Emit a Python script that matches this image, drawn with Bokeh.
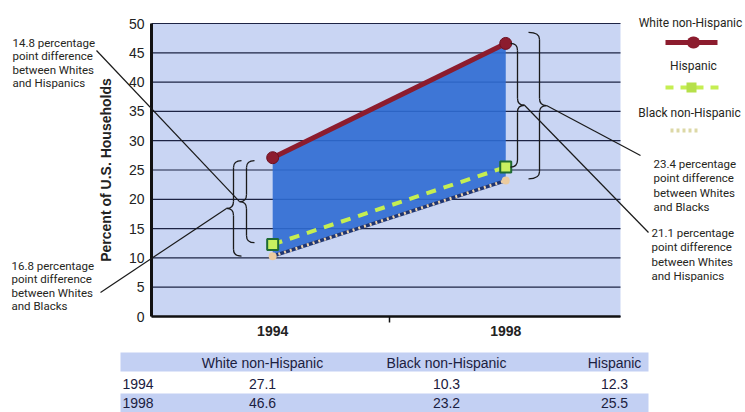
from bokeh.plotting import figure
from bokeh.models import (Range1d, FixedTicker, Label, Arrow, BoxAnnotation,
                          ColumnDataSource, LinearAxis)
from bokeh.embed import file_html
from bokeh.resources import INLINE

# ---------------- data ----------------
years = [1994, 1998]
white = [27.1, 46.6]
black = [10.3, 23.2]
hispanic = [12.3, 25.5]
series_names = ["White non-Hispanic", "Black non-Hispanic", "Hispanic"]
legend_order = ["White non-Hispanic", "Hispanic", "Black non-Hispanic"]
y_ticks = [0, 5, 10, 15, 20, 25, 30, 35, 40, 45, 50]
x_ticks = [1994, 1998]
x_minor = [1996]
y_label = "Percent of U.S. Households"

# ---------------- geometry (image pixels) ----------------
W, H = 745, 412
OX, OY = 0, 0
FL, FR, FT, FB = 151, 620, 23, 316          # chart area in image pixels
X0, X1 = 1991.92, 1999.97                    # chart x extent
Y0, Y1 = 0, 50                               # chart y extent


def dx(px):
    return X0 + (px - FL) * (X1 - X0) / (FR - FL)


def dy(py):
    return Y0 + (FB - py) * (Y1 - Y0) / (FB - FT)


PXY = (FB - FT) / (Y1 - Y0)

NARROW = "Roboto"
NSIZE = "11.5px"
SANS = "Liberation Sans"
TXT = "#26261c"
TBL = "#1b2040"

p = figure(width=W, height=H,
           x_range=Range1d(dx(OX), dx(OX + W)), y_range=Range1d(dy(OY + H), dy(OY)),
           output_backend="svg", toolbar_location=None,
           x_axis_type=None, y_axis_type=None,
           min_border_left=0, min_border_right=0, min_border_top=0, min_border_bottom=0)
p.background_fill_color = "white"
p.border_fill_color = "white"
p.outline_line_color = None
p.xgrid.visible = False
p.ygrid.visible = False

# chart background
p.add_layout(BoxAnnotation(left=X0, right=X1, bottom=Y0, top=Y1, fill_color="#C9D5F3",
                           fill_alpha=1, line_color=None, level="underlay"))

# axes at fixed locations
yax = LinearAxis(fixed_location=X0, bounds=(Y0, Y1), ticker=FixedTicker(ticks=y_ticks))
yax.major_tick_line_color = None
yax.major_tick_out = 0
yax.minor_tick_line_color = None
yax.major_label_standoff = 7
yax.major_label_text_font = SANS
yax.major_label_text_font_size = "14px"
yax.major_label_text_color = "#222222"
yax.axis_line_color = "#111111"
yax.axis_line_width = 3
yax.axis_label = y_label
yax.axis_label_text_font = SANS
yax.axis_label_text_font_size = "14px"
yax.axis_label_text_font_style = "bold"
yax.axis_label_text_color = "#222222"
yax.axis_label_standoff = 12
p.add_layout(yax, "left")

xax = LinearAxis(fixed_location=Y0, bounds=(X0, X1),
                 ticker=FixedTicker(ticks=x_ticks, minor_ticks=x_minor))
xax.major_tick_line_color = None
xax.major_tick_out = 0
xax.minor_tick_in = 0
xax.minor_tick_out = 6
xax.minor_tick_line_color = "#111111"
xax.minor_tick_line_width = 1.5
xax.major_label_standoff = 3
xax.major_label_text_font = SANS
xax.major_label_text_font_size = "14px"
xax.major_label_text_font_style = "bold"
xax.major_label_text_color = "#222222"
xax.axis_line_color = "#111111"
xax.axis_line_width = 2.5
p.add_layout(xax, "below")

# horizontal grid lines at the y ticks
p.segment(x0=[X0] * len(y_ticks), x1=[X1] * len(y_ticks), y0=y_ticks, y1=y_ticks,
          line_color="#1d2444", line_width=1.2)

# ---------------- gap area ----------------
p.patch(x=[years[0], years[1], years[1], years[0]],
        y=[white[0], white[1], black[1], black[0]],
        fill_color="#2F6BD3", fill_alpha=0.9, line_color=None)

# Black non-Hispanic
p.line(years, black, line_color="#1E3572", line_width=3.5)
p.line(years, black, line_color="#EDD2AC", line_width=3, line_dash="2 4")
p.scatter(years, black, size=8, fill_color="#EBCB9F", line_color=None)

# Hispanic
p.line(years, hispanic, line_color="#C5EE52", line_width=4, line_dash="10 8")
p.scatter(years, hispanic, marker="square", size=11, fill_color="#C8F060",
          line_color="#1F6B33", line_width=2)

# White non-Hispanic
p.line(years, white, line_color="#8C1C2E", line_width=5)
p.scatter(years, white, size=12, fill_color="#8C1C2E", line_color="#6D1020")

# ---------------- braces ----------------
R = 7 / PXY


def brace(x_mid_px, x_cusp_px, x_end_px, y_top, y_bot):
    xm, xc, xe = dx(x_mid_px), dx(x_cusp_px), dx(x_end_px)
    ym = (y_top + y_bot) / 2
    q = dict(x0=[xe, xm, xc, xm], y0=[y_top, ym + R, ym, y_bot + R],
             x1=[xm, xc, xm, xe], y1=[y_top - R, ym, ym - R, y_bot],
             cx=[xm, xm, xm, xm], cy=[y_top, ym, ym, y_bot])
    p.quadratic(x0="x0", y0="y0", x1="x1", y1="y1", cx="cx", cy="cy",
                source=ColumnDataSource(q), line_color="#1a1a1a", line_width=1.3)
    p.segment(x0=[xm, xm], y0=[y_top - R, ym - R], x1=[xm, xm], y1=[ym + R, y_bot + R],
              line_color="#1a1a1a", line_width=1.3)
    return xc, ym


lo_c = brace(233, 226, 241, white[0] - 0.5, black[0])
li_c = brace(246, 239, 254, white[0] - 0.5, hispanic[0] + 0.3)
ri_c = brace(517, 524, 510, white[1], hispanic[1])
ro_c = brace(539, 546, 528, white[1] + 1.9, black[1] + 0.3)


def leader(x0, y0, x1, y1):
    p.add_layout(Arrow(end=None, x_start=x0, y_start=y0, x_end=x1, y_end=y1,
                       line_color="#1a1a1a", line_width=1.2))


leader(dx(96), dy(50), li_c[0], li_c[1])
leader(dx(100), dy(292), lo_c[0], lo_c[1])
leader(ro_c[0], ro_c[1], dx(640), dy(155))
leader(ri_c[0], ri_c[1], dx(648), dy(232))


def text(t, px, py, size=NSIZE, font=NARROW, align="left", color=TXT, style="normal"):
    p.add_layout(Label(x=dx(px), y=dy(py), text=t, text_font=font, text_font_size=size,
                       text_align=align, text_baseline="middle", text_color=color,
                       text_font_style=style))


def block(lines, px, py0, step=14):
    for i, t in enumerate(lines):
        text(t, px, py0 + i * step)


d_wh0 = white[0] - hispanic[0]
d_wb0 = white[0] - black[0]
d_wb1 = white[1] - black[1]
d_wh1 = white[1] - hispanic[1]
block([f"{d_wh0:.1f} percentage", "point difference", "between Whites", "and Hispanics"], 12, 42, 13.5)
block([f"{d_wb0:.1f} percentage", "point difference", "between Whites", "and Blacks"], 11, 265, 13.5)
block([f"{d_wb1:.1f} percentage", "point difference", "between Whites", "and Blacks"], 653, 163, 14.5)
block([f"{d_wh1:.1f} percentage", "point difference", "between Whites", "and Hispanics"], 651, 232, 14.5)

# ---------------- legend ----------------
text(legend_order[0], 690, 22, size="12px", align="center")
text(legend_order[1], 693, 65, size="12px", align="center")
text(legend_order[2], 689, 112, size="12px", align="center")
p.add_layout(Arrow(end=None, x_start=dx(665), y_start=dy(42), x_end=dx(717), y_end=dy(42),
                   line_color="#8C1C2E", line_width=5))
p.add_layout(Arrow(end=None, x_start=dx(692.5), y_start=dy(42), x_end=dx(693.5), y_end=dy(42),
                   line_color="#8C1C2E", line_width=12, line_cap="round"))
p.add_layout(Arrow(end=None, x_start=dx(665), y_start=dy(87), x_end=dx(720), y_end=dy(87),
                   line_color="#C5EE52", line_width=4, line_dash="8 7"))
p.add_layout(Arrow(end=None, x_start=dx(686), y_start=dy(87), x_end=dx(696), y_end=dy(87),
                   line_color="#B6E04A", line_width=10))
p.add_layout(Arrow(end=None, x_start=dx(670), y_start=dy(130), x_end=dx(699), y_end=dy(130),
                   line_color="#DCD8A6", line_width=4, line_dash="3 3"))

# ---------------- table ----------------
BAND = "#C3D0F3"
p.add_layout(BoxAnnotation(left=dx(120), right=dx(648), top=dy(352), bottom=dy(371),
                           fill_color=BAND, fill_alpha=1, line_color=None, level="underlay"))
p.add_layout(BoxAnnotation(left=dx(120), right=dx(648), top=dy(393), bottom=dy(416),
                           fill_color=BAND, fill_alpha=1, line_color=None, level="underlay"))
col_x = [262, 446, 614]
for name, cx in zip(series_names, col_x):
    text(name, cx, 362, size="14px", font=SANS, align="center", color=TBL)
rows_y = [383, 402]
for i, yr in enumerate(years):
    text(str(yr), 122, rows_y[i], size="14px", font=SANS, color=TBL)
    for vals, cx in zip([white, black, hispanic], col_x):
        text(f"{vals[i]:.1f}", cx, rows_y[i], size="14px", font=SANS, align="center", color=TBL)

open("out.html", "w").write(file_html(p, INLINE))
